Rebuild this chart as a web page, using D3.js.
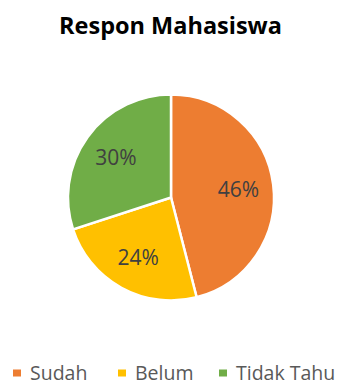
<!DOCTYPE html>
<html>
<head>
<meta charset="utf-8">
<script src="https://cdn.jsdelivr.net/npm/d3@7"></script>
<style>
  body { margin: 0; background: #fff; }
  svg { display: block; font-family: "Open Sans", "Noto Sans", sans-serif; }
</style>
</head>
<body>
<div id="chart"></div>
<script>
var categories = ['Sudah', 'Belum', 'Tidak Tahu'];
var values = [46, 24, 30];
var colors = ['#ED7D31', '#FFC000', '#70AD47'];

var svgWidth = 341;
var svgHeight = 385;

var svg = d3.select('#chart')
  .append('svg')
  .attr('width', svgWidth)
  .attr('height', svgHeight);

// Title
svg.append('text')
  .attr('x', 170.5)
  .attr('y', 34)
  .attr('text-anchor', 'middle')
  .attr('font-size', 23.5)
  .attr('font-weight', 'bold')
  .attr('fill', '#000')
  .text('Respon Mahasiswa');

var data = categories.map(function(c, i) {
  return { name: c, value: values[i], color: colors[i] };
});

var radius = 103;
var pieGroup = svg.append('g')
  .attr('transform', 'translate(171, 197.5)');

var pie = d3.pie().sort(null).value(d => d.value);
var arc = d3.arc().innerRadius(0).outerRadius(radius);
var labelArc = d3.arc().innerRadius(radius * 0.66).outerRadius(radius * 0.66);

var arcs = pie(data);

pieGroup.selectAll('path')
  .data(arcs)
  .enter()
  .append('path')
  .attr('d', arc)
  .attr('fill', d => d.data.color)
  .attr('stroke', '#fff')
  .attr('stroke-width', 2.5);

pieGroup.selectAll('.slice-label')
  .data(arcs)
  .enter()
  .append('text')
  .attr('class', 'slice-label')
  .attr('transform', d => 'translate(' + labelArc.centroid(d) + ')')
  .attr('text-anchor', 'middle')
  .attr('dy', '0.36em')
  .attr('font-size', 21)
  .attr('fill', '#404040')
  .text(d => d.data.value + '%');

// Legend
var legendX = [13, 118, 219];
var legend = svg.append('g');
var items = legend.selectAll('g')
  .data(data)
  .enter()
  .append('g')
  .attr('transform', (d, i) => 'translate(' + legendX[i] + ', 373)');

items.append('rect')
  .attr('x', 0)
  .attr('y', -3.5)
  .attr('width', 8)
  .attr('height', 7)
  .attr('fill', d => d.color);

items.append('text')
  .attr('x', 17)
  .attr('y', 0)
  .attr('dy', '0.34em')
  .attr('font-size', 19.5)
  .attr('fill', '#595959')
  .text(d => d.name);
</script>
</body>
</html>
